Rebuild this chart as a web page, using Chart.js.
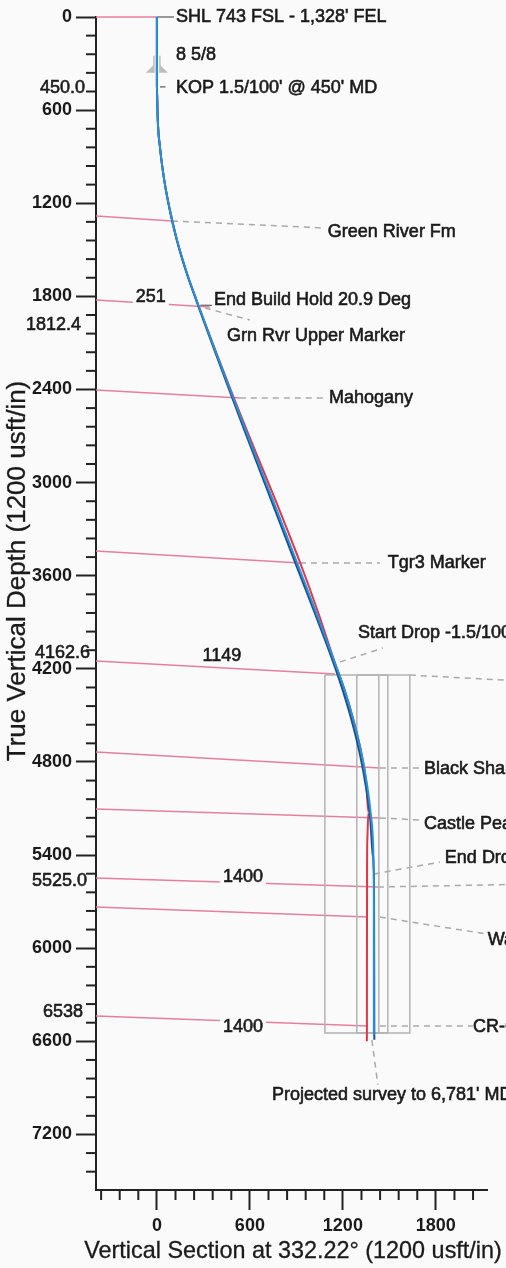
<!DOCTYPE html>
<html>
<head>
<meta charset="utf-8">
<script src="https://cdn.jsdelivr.net/npm/chart.js@4/dist/chart.umd.min.js"></script>
<style>
  html, body { margin: 0; padding: 0; background: #fafafa; }
  canvas { display: block; }
</style>
</head>
<body>
<canvas id="wellChart" width="506" height="1268"></canvas>
<script>
// Vertical section plot

const FONT = '"Liberation Sans", Arial, sans-serif';

// Axis ticks
const xTicks = [0, 600, 1200, 1800];
const yTicks = [0, 600, 1200, 1800, 2400, 3000, 3600, 4200, 4800, 5400, 6000, 6600, 7200];

// Marked depths on the TVD axis
const depthMarks = [450.0, 1812.4, 4162.6, 5525.0, 6538];
const depthMarkText = ['450.0', '1812.4', '4162.6', '5525.0', '6538'];

// Plan (light blue)
const planVS  = [0, 0, 5, 21, 47, 84, 130, 187, 251, 1149, 1214, 1270, 1317, 1353, 1379, 1395, 1400, 1400];
const planTVD = [0, 450, 650, 849, 1048, 1244, 1439, 1630, 1812, 4163, 4345, 4537, 4731, 4928, 5126, 5326, 5525, 6560];

// Survey (dark blue)
const surveyVS  = [0, 0, 5, 21, 47, 84, 129, 185, 248, 560, 875, 1135, 1203, 1264, 1312, 1349, 1376, 1393, 1401, 1403];
const surveyTVD = [0, 450, 650, 850, 1050, 1250, 1440, 1630, 1810, 2650, 3470, 4150, 4350, 4560, 4760, 4960, 5160, 5400, 5600, 6590];

// Offset design (red)
const designVS  = [0, 0, 5, 21, 47, 84, 130, 187, 251, 497, 636, 780, 925, 1045, 1149, 1214, 1270, 1317, 1350, 1365, 1358, 1356, 1355];
const designTVD = [0, 450, 650, 849, 1048, 1244, 1439, 1630, 1812, 2455, 2800, 3150, 3518, 3850, 4163, 4345, 4537, 4731, 4928, 5126, 5300, 5500, 6600];

// Formation tops (pink), from the axis to the wellbore
const topFromVS  = [-393, -393, -393, -393, -393, -393, -393, -393, -393, -393, -393];
const topFromTVD = [0, 1282, 1823, 2403, 3441, 4150, 4736, 5103, 5548, 5735, 6437];
const topToVS    = [0, 97, 342, 535, 923, 1148, 1439, 1439, 1426, 1361, 1361];
const topToTVD   = [0, 1314, 1869, 2455, 3518, 4233, 4839, 5161, 5606, 5799, 6501];

// Dashed leaders to the labels
const leadFromVS  = [97, 310, 535, 923, 1181, 1632, 1439, 1439, 1400, 1426, 1439, 1439, 1387];
const leadFromTVD = [1314, 1875, 2455, 3518, 4156, 4240, 4839, 5161, 5522, 5606, 5799, 6501, 6591];
const leadToVS    = [1084, 600, 1084, 1439, 1458, 2252, 1697, 1697, 1826, 2252, 2129, 2039, 1426];
const leadToTVD   = [1360, 1952, 2455, 3518, 4066, 4273, 4839, 5174, 5445, 5590, 5909, 6501, 6881];

// Short solid leaders (SHL, End Build, KOP)
const tickFromVS  = [0, 280, 20];
const tickFromTVD = [0, 1858, 450];
const tickToVS    = [110, 355, 55];
const tickToTVD   = [0, 1858, 450];

// Target boxes
const boxLeft   = [1084, 1290];
const boxRight  = [1632, 1490];
const boxTop    = [4240, 4240];
const boxBottom = [6546, 6546];
const boxLineVS = [1432];

// Casing
const casingVS = 0;
const casingTVD = 360;

// Labels
const labelText = [
  "SHL 743 FSL - 1,328' FEL", '8 5/8', "KOP 1.5/100' @ 450' MD", 'Green River Fm',
  '251', 'End Build Hold 20.9 Deg', 'Grn Rvr Upper Marker', 'Mahogany', 'Tgr3 Marker',
  "Start Drop -1.5/100'", '1149', 'Black Shale', 'Castle Peak', 'End Drop', '1400',
  'Wasatch', 'CR-6', '1400', "Projected survey to 6,781' MD"
];
const labelVS  = [123, 123, 123, 1103, -39, 368, 452, 1110, 1490, 1297, 419, 1723, 1723, 1858, 555, 2135, 2039, 555, 742];
const labelTVD = [0, 245, 457, 1385, 1804, 1823, 2055, 2455, 3518, 3969, 4117, 4845, 5200, 5419, 5541, 5947, 6508, 6508, 6946];
const labelCentered = [false, false, false, false, true, false, false, false, false, false, true, false, false, false, true, false, false, true, false];

// Styles
const PLAN_COLOR = '#2392d9';
const SURVEY_COLOR = '#1d4e8f';
const DESIGN_COLOR = '#e3344a';
const TOP_COLOR = '#e4809f';
const LEAD_COLOR = '#aaaaaa';
const BOX_COLOR = '#b3b3b3';
const TEXT_COLOR = '#1a1a1a';
const markLabelShift = [1, 27, -10, 7, -20];
const markLabelRight = [85, 81, 90, 87, 83];

function toPoints(xs, ys) {
    return xs.map((v, i) => ({ x: v, y: ys[i] }));
}

function segment(x0, y0, x1, y1, color, width, dash) {
    return {
        data: [{ x: x0, y: y0 }, { x: x1, y: y1 }],
        showLine: true,
        borderColor: color,
        borderWidth: width,
        borderDash: dash || [],
        pointRadius: 0,
        clip: false
    };
}

function wellPath(xs, ys, color) {
    return {
        data: toPoints(xs, ys),
        showLine: true,
        borderColor: color,
        borderWidth: 2,
        cubicInterpolationMode: 'monotone',
        pointRadius: 0,
        clip: false
    };
}

// Chart.js paints the first dataset last, so the list goes from top to bottom
function buildDatasets() {
    const sets = [];

    // Well paths
    sets.push(wellPath(planVS, planTVD, PLAN_COLOR));
    sets.push(wellPath(surveyVS, surveyTVD, SURVEY_COLOR));
    sets.push(wellPath(designVS, designTVD, DESIGN_COLOR));

    // Target boxes
    boxLeft.forEach((l, i) => {
        sets.push({
            data: toPoints([l, boxRight[i], boxRight[i], l, l], [boxTop[i], boxTop[i], boxBottom[i], boxBottom[i], boxTop[i]]),
            showLine: true, borderColor: BOX_COLOR, borderWidth: 1.5, pointRadius: 0, clip: false
        });
    });
    boxLineVS.forEach(v => sets.push(segment(v, boxTop[0], v, boxBottom[0], BOX_COLOR, 1.5)));

    // Leaders
    tickFromVS.forEach((v, i) => {
        sets.push(segment(v, tickFromTVD[i], tickToVS[i], tickToTVD[i], '#777777', 1.5));
    });
    leadFromVS.forEach((v, i) => {
        sets.push(segment(v, leadFromTVD[i], leadToVS[i], leadToTVD[i], LEAD_COLOR, 1.5, [6, 5]));
    });

    // Formation tops
    topFromVS.forEach((v, i) => {
        sets.push(segment(v, topFromTVD[i], topToVS[i], topToTVD[i], TOP_COLOR, 1.5));
    });

    return sets;
}

function heavyText(ctx, t, px, py) {
    ctx.strokeText(t, px, py);
    ctx.fillText(t, px, py);
}

// Minor ticks, labels, casing, titles
const overlayPlugin = {
    id: 'overlay',
    afterDatasetsDraw(chart) {
        const { ctx, chartArea } = chart;
        const x = chart.scales.x;
        const y = chart.scales.y;
        ctx.save();

        // minor ticks every 120'
        ctx.strokeStyle = '#222';
        ctx.lineWidth = 2;
        for (let v = Math.ceil(x.min / 120) * 120; v <= x.max; v += 120) {
            if (v % 600 === 0) continue;
            const px = x.getPixelForValue(v);
            ctx.beginPath();
            ctx.moveTo(px, chartArea.bottom);
            ctx.lineTo(px, chartArea.bottom + 10);
            ctx.stroke();
        }
        for (let v = 120; v <= y.max; v += 120) {
            if (v % 600 === 0) continue;
            const py = y.getPixelForValue(v);
            ctx.beginPath();
            ctx.moveTo(chartArea.left - 10, py);
            ctx.lineTo(chartArea.left, py);
            ctx.stroke();
        }

        // casing shoe
        const cx = x.getPixelForValue(casingVS);
        const cy = y.getPixelForValue(casingTVD);
        ctx.fillStyle = '#bdbdbd';
        ctx.strokeStyle = '#bdbdbd';
        ctx.lineWidth = 1.5;
        [-1, 1].forEach(side => {
            ctx.beginPath();
            ctx.moveTo(cx + side * 3, cy - 17);
            ctx.lineTo(cx + side * 3, cy);
            ctx.stroke();
            ctx.beginPath();
            ctx.moveTo(cx + side * 3, cy - 8);
            ctx.lineTo(cx + side * 3, cy);
            ctx.lineTo(cx + side * 11, cy);
            ctx.closePath();
            ctx.fill();
        });

        // text labels
        ctx.font = '18px ' + FONT;
        ctx.textBaseline = 'middle';
        ctx.lineWidth = 0.6;
        ctx.strokeStyle = TEXT_COLOR;
        labelText.forEach((t, i) => {
            const px = x.getPixelForValue(labelVS[i]);
            const py = y.getPixelForValue(labelTVD[i]);
            if (labelCentered[i]) {
                const w = ctx.measureText(t).width;
                ctx.fillStyle = '#fafafa';
                ctx.fillRect(px - w / 2 - 3, py - 9, w + 6, 18);
                ctx.textAlign = 'center';
            } else {
                ctx.textAlign = 'left';
            }
            ctx.fillStyle = TEXT_COLOR;
            heavyText(ctx, t, px, py);
        });

        // marked depths on the axis
        ctx.textAlign = 'right';
        depthMarks.forEach((d, i) => {
            const py = y.getPixelForValue(d) + markLabelShift[i];
            heavyText(ctx, depthMarkText[i], markLabelRight[i], py);
        });

        // axis titles
        ctx.textAlign = 'center';
        ctx.lineWidth = 0.3;
        ctx.font = '23.4px ' + FONT;
        heavyText(ctx, 'Vertical Section at 332.22\u00b0 (1200 usft/in)', 293, 1252);
        ctx.translate(18, 571);
        ctx.rotate(-Math.PI / 2);
        ctx.font = '26px ' + FONT;
        heavyText(ctx, 'True Vertical Depth (1200 usft/in)', 0, 0);

        ctx.restore();
    }
};

function initChart() {
    const ctx = document.getElementById('wellChart');
    const tickFont = { family: FONT, size: 18, weight: 'bold' };
    new Chart(ctx, {
        type: 'scatter',
        data: { datasets: buildDatasets() },
        options: {
            responsive: false,
            animation: false,
            layout: { padding: { left: 10, top: 17, right: 19, bottom: 0 } },
            plugins: {
                legend: { display: false },
                tooltip: { enabled: false }
            },
            scales: {
                x: {
                    type: 'linear',
                    position: 'bottom',
                    min: -393,
                    max: 2130,
                    afterBuildTicks: s => { s.ticks = xTicks.map(v => ({ value: v })); },
                    afterFit: s => { s.height = 78; },
                    grid: { drawOnChartArea: false, tickLength: 20, tickWidth: 2, tickColor: '#222' },
                    border: { color: '#222', width: 2 },
                    ticks: { font: tickFont, color: TEXT_COLOR, padding: 5, maxRotation: 0, autoSkip: false, callback: v => String(v) }
                },
                y: {
                    type: 'linear',
                    position: 'left',
                    reverse: true,
                    min: 0,
                    max: 7558,
                    afterBuildTicks: s => { s.ticks = yTicks.map(v => ({ value: v })); },
                    afterFit: s => { s.width = 86; },
                    grid: { drawOnChartArea: false, tickLength: 20, tickWidth: 2, tickColor: '#222' },
                    border: { color: '#222', width: 2 },
                    ticks: { font: tickFont, color: TEXT_COLOR, padding: 4, autoSkip: false, callback: v => String(v) }
                }
            }
        },
        plugins: [overlayPlugin]
    });
}

initChart();
</script>
</body>
</html>
